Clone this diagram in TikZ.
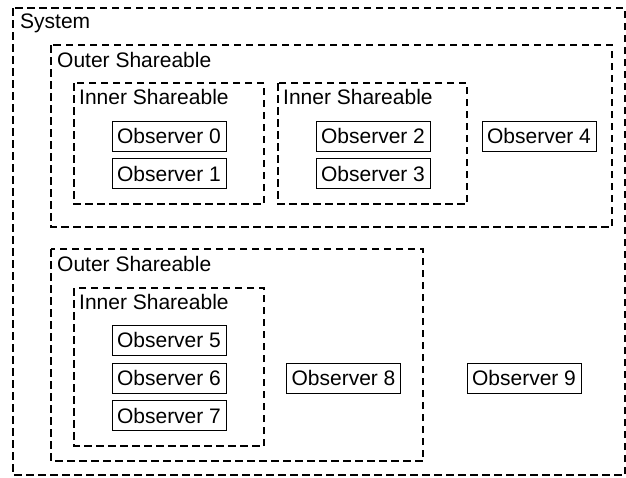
\documentclass[tikz,border=0pt]{standalone}
\usepackage{fontspec}
\setmainfont{Liberation Sans}
\usepackage{tikz}

\begin{document}
\begin{tikzpicture}[x=1pt,y=-1pt,
    group/.style={draw,line width=2.4pt,dash pattern=on 7.5pt off 4.5pt},
    grouplabel/.style={anchor=base west,inner sep=0pt,font=\fontsize{21}{25}\selectfont},
    obs/.style={draw,line width=0.9pt,minimum width=114pt,minimum height=30pt,
      inner sep=0pt,font=\fontsize{21}{25}\selectfont}]
  \useasboundingbox (0,0) rectangle (626,477);
  % domains
  \path[group] (13,8) rectangle (625,475);
  \path[group] (51,45) rectangle (612,227);
  \path[group] (74,83) rectangle (264,204);
  \path[group] (278,83) rectangle (467,204);
  \path[group] (51,249) rectangle (423,461);
  \path[group] (74,288) rectangle (264,446);
  \node[grouplabel] (sys) at (20,28) {System};
  \node[grouplabel] (outerA) at (57,67) {Outer Shareable};
  \node[grouplabel] (innerA) at (79,104) {Inner Shareable};
  \node[grouplabel] (innerB) at (283,104) {Inner Shareable};
  \node[grouplabel] (outerB) at (57,271) {Outer Shareable};
  \node[grouplabel] (innerC) at (79,309) {Inner Shareable};
  % observers
  \foreach \n/\x/\y in {0/169/136, 1/169/173.5, 2/373/136, 3/373/173.5, 4/539/136,
                        5/169/340, 6/169/378, 7/169/415.5, 8/343.5/378, 9/524/378}{
    \node[obs] (obs\n) at (\x,\y) {Observer \n};
  }
\end{tikzpicture}
\end{document}
